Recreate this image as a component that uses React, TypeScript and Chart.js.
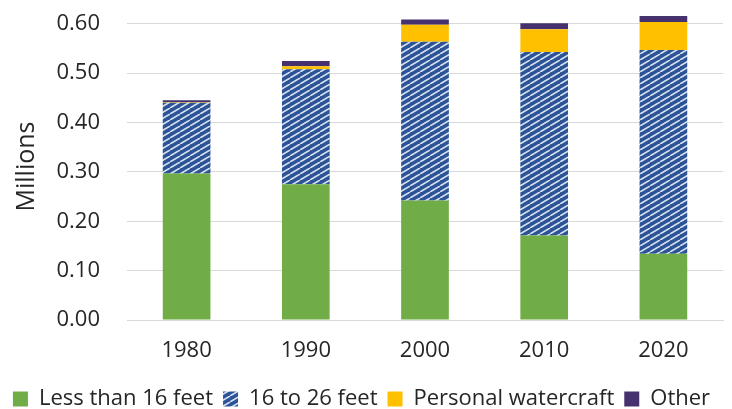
import React, { useEffect, useRef } from 'react';
import { Chart, registerables } from 'chart.js';

Chart.register(...registerables);

const years = ['1980', '1990', '2000', '2010', '2020'];
const lessThan16Feet = [0.297, 0.275, 0.242, 0.171, 0.134];
const feet16to26 = [0.143, 0.233, 0.322, 0.372, 0.413];
const personalWatercraft = [0.001, 0.006, 0.034, 0.046, 0.057];
const other = [0.004, 0.011, 0.011, 0.012, 0.012];
const yTickValues = [0, 0.1, 0.2, 0.3, 0.4, 0.5, 0.6];

const FONT = '"Open Sans", sans-serif';
const TEXT = '#262626';

function makeHatch(ctx: CanvasRenderingContext2D) {
  const w = 10;
  const h = 6;
  const c = document.createElement('canvas');
  c.width = w;
  c.height = h;
  const g = c.getContext('2d')!;
  g.fillStyle = '#2B5396';
  g.fillRect(0, 0, w, h);
  g.strokeStyle = '#D6E0F2';
  g.lineWidth = 1.6;
  g.beginPath();
  for (const dx of [-w, 0, w]) {
    g.moveTo(dx, h);
    g.lineTo(dx + w, 0);
  }
  g.stroke();
  return ctx.createPattern(c, 'repeat') as CanvasPattern;
}

export default function App() {
  const ref = useRef<HTMLCanvasElement>(null);
  useEffect(() => {
    const canvas = ref.current!;
    const ctx = canvas.getContext('2d')!;
    const hatch = makeHatch(ctx);
    const chart = new Chart(canvas, {
      type: 'bar',
      data: {
        labels: years,
        datasets: [
          { label: 'Less than 16 feet', data: lessThan16Feet, backgroundColor: '#70AD47' },
          { label: '16 to 26 feet', data: feet16to26, backgroundColor: hatch },
          { label: 'Personal watercraft', data: personalWatercraft, backgroundColor: '#FFC000' },
          { label: 'Other', data: other, backgroundColor: '#46316F' },
        ],
      },
      options: {
        animation: false,
        responsive: false,
        layout: { padding: { left: 0, right: 9, top: 13, bottom: -11 } },
        datasets: { bar: { categoryPercentage: 1, barPercentage: 0.4 } },
        scales: {
          x: {
            stacked: true,
            grid: { display: false, drawTicks: false },
            border: { display: true, color: '#D9D9D9', width: 1 },
            ticks: { color: TEXT, font: { family: FONT, size: 22 }, padding: 18 },
            afterFit: (axis: any) => { axis.height = 58; },
          },
          y: {
            stacked: true,
            min: 0,
            max: 0.622,
            grid: { color: '#D9D9D9', lineWidth: 1, drawTicks: false },
            border: { display: false },
            ticks: {
              color: TEXT,
              font: { family: FONT, size: 22 },
              padding: 27,
              stepSize: 0.1,
              callback: (v: any) => Number(v).toFixed(2),
            },
            afterBuildTicks: (axis: any) => {
              axis.ticks = yTickValues.map((v) => ({ value: v }));
            },
            afterFit: (axis: any) => {
              axis.width = 127;
              axis.paddingTop = 0;
              axis.paddingBottom = 0;
            },
            title: {
              display: true,
              text: 'Millions',
              color: TEXT,
              font: { family: FONT, size: 25 },
              padding: { top: 12, bottom: 0 },
            },
          },
        },
        plugins: {
          legend: {
            position: 'bottom',
            labels: {
              color: TEXT,
              font: { family: FONT, size: 22 },
              boxWidth: 15,
              boxHeight: 15,
              padding: 10,
            },
          },
          tooltip: { enabled: false },
        },
      },
    });
    return () => chart.destroy();
  }, []);
  return (
    <div style={{ position: 'fixed', left: 0, top: 0, width: 732, height: 409, background: '#fff' }}>
      <canvas ref={ref} width={732} height={409} style={{ display: 'block' }} />
    </div>
  );
}
